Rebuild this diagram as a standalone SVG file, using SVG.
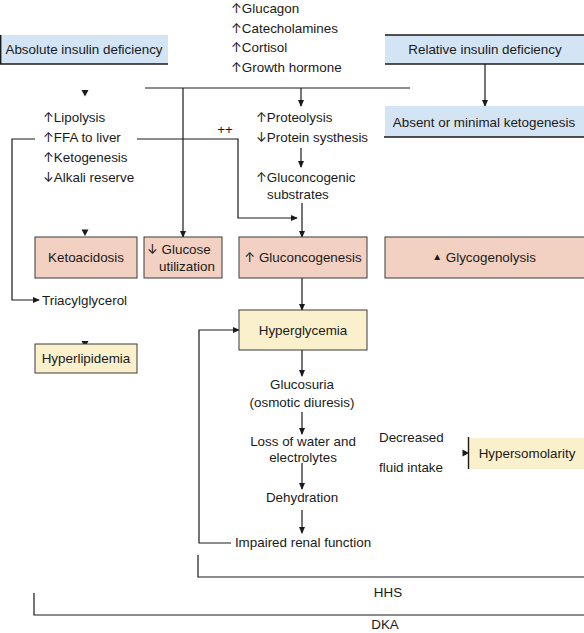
<svg xmlns="http://www.w3.org/2000/svg" width="584" height="633" viewBox="0 0 584 633">
<defs>
<marker id="ah" viewBox="0 0 8 8" refX="7" refY="4" markerWidth="7" markerHeight="7" markerUnits="userSpaceOnUse" orient="auto">
<path d="M0,0.5 L8,4 L0,7.5 z" fill="#1a1a1a"/>
</marker>
<style>
text{font-family:"Liberation Sans",Arial,sans-serif;font-size:13.4px;fill:#1a1a1a}
.c{text-anchor:middle}
.u{font-family:Inter,"DejaVu Sans",sans-serif;font-size:13px}
.ln{fill:none;stroke:#1a1a1a;stroke-width:1.2}
.ar{fill:none;stroke:#1a1a1a;stroke-width:1.2;marker-end:url(#ah)}
.blue{fill:#d3e4f4}
.pink{fill:#f2d0c2;stroke:#3a3a3a;stroke-width:1}
.yel{fill:#fbf0cc;stroke:#3a3a3a;stroke-width:1}
.edge{stroke:#1a1a1a;stroke-width:1.4}
.head{fill:#1a1a1a}
</style>
</defs>
<rect width="584" height="633" fill="#ffffff"/>

<g id="connectors">
<polyline class="ln" points="145,88 410,88"/>
<line class="ar" x1="183" y1="88" x2="183" y2="237"/>
<line class="ar" x1="301" y1="88" x2="301" y2="106"/>
<line class="ar" x1="485" y1="64" x2="485" y2="106"/>
<polyline class="ar" points="35,139 12,139 12,300 39,300"/>
<polyline class="ar" points="137,139 238,139 238,218 297,218"/>
<line class="ar" x1="301" y1="148" x2="301" y2="167"/>
<line class="ar" x1="302" y1="203" x2="302" y2="237"/>
<line class="ar" x1="302" y1="278" x2="302" y2="310"/>
<line class="ar" x1="302" y1="350" x2="302" y2="376"/>
<line class="ar" x1="302" y1="412" x2="302" y2="434"/>
<line class="ar" x1="302" y1="463" x2="302" y2="489"/>
<line class="ar" x1="302" y1="510" x2="302" y2="533"/>
<polyline class="ar" points="231,543 199,543 199,330 239,330"/>
<path class="head" d="M81.5,90 L88.5,90 L85,96.5 z"/>
<path class="head" d="M81.5,229.5 L88.5,229.5 L85,236 z"/>
<path class="head" d="M81.5,341 L88.5,341 L85,347.5 z"/>
<path class="head" d="M462.5,449.5 L469,453 L462.5,456.5 z"/>
<polyline class="ln" points="198,555 198,577 584,577"/>
<polyline class="ln" points="34,593 34,615 584,615"/>
</g>

<g id="hormones">
<text x="231" y="13"><tspan class="u">↑</tspan>Glucagon</text>
<text x="231" y="33"><tspan class="u">↑</tspan>Catecholamines</text>
<text x="231" y="52"><tspan class="u">↑</tspan>Cortisol</text>
<text x="231" y="72"><tspan class="u">↑</tspan>Growth hormone</text>
</g>

<g id="absolute">
<rect class="blue" x="0" y="35" width="168" height="29"/>
<line class="edge" x1="0.7" y1="35" x2="0.7" y2="64"/>
<line class="edge" x1="0" y1="64" x2="168" y2="64"/>
<text class="c" x="84" y="54">Absolute insulin deficiency</text>
</g>

<g id="relative">
<rect class="blue" x="385" y="35" width="199" height="29"/>
<line class="edge" x1="385" y1="35" x2="584" y2="35"/>
<line class="edge" x1="385" y1="64" x2="584" y2="64"/>
<text class="c" x="485" y="54">Relative insulin deficiency</text>
</g>

<g id="absent">
<rect class="blue" x="385" y="106" width="199" height="31"/>
<line class="edge" x1="384" y1="137" x2="584" y2="137"/>
<text class="c" x="484" y="127">Absent or minimal ketogenesis</text>
</g>

<g id="lipolysis">
<text x="43" y="122"><tspan class="u">↑</tspan>Lipolysis</text>
<text x="43" y="142"><tspan class="u">↑</tspan>FFA to liver</text>
<text x="43" y="162"><tspan class="u">↑</tspan>Ketogenesis</text>
<text x="43" y="182"><tspan class="u">↓</tspan>Alkali reserve</text>
</g>

<g id="plusplus">
<text class="c" x="225" y="134">++</text>
</g>

<g id="proteolysis">
<text x="256" y="122"><tspan class="u">↑</tspan>Proteolysis</text>
<text x="256" y="142"><tspan class="u">↓</tspan>Protein systhesis</text>
</g>

<g id="substrates">
<text x="256" y="182"><tspan class="u">↑</tspan>Gluconcogenic</text>
<text x="267" y="199">substrates</text>
</g>

<g id="ketoacidosis">
<rect class="pink" x="35" y="237" width="102" height="41"/>
<text class="c" x="86" y="262">Ketoacidosis</text>
</g>

<g id="glucose-utilization">
<rect class="pink" x="144" y="237" width="78" height="41"/>
<text x="147" y="254"><tspan class="u">↓</tspan> Glucose</text>
<text x="159" y="271">utilization</text>
</g>

<g id="gluconeogenesis">
<rect class="pink" x="239" y="237" width="128" height="41"/>
<text class="c" x="303" y="262"><tspan class="u">↑</tspan> Gluconcogenesis</text>
</g>

<g id="glycogenolysis">
<rect class="pink" x="385" y="237" width="200" height="41"/>
<text class="c" x="484" y="262"><tspan font-size="10" dy="-2">▲</tspan><tspan dy="2"> Glycogenolysis</tspan></text>
</g>

<g id="triacylglycerol">
<text x="42" y="305">Triacylglycerol</text>
</g>

<g id="hyperlipidemia">
<rect class="yel" x="35" y="344" width="102" height="29"/>
<text class="c" x="86" y="363">Hyperlipidemia</text>
</g>

<g id="hyperglycemia">
<rect class="yel" x="239" y="310" width="128" height="40"/>
<text class="c" x="303" y="335">Hyperglycemia</text>
</g>

<g id="glucosuria">
<text class="c" x="302" y="389">Glucosuria</text>
<text class="c" x="302" y="407">(osmotic diuresis)</text>
</g>

<g id="loss">
<text class="c" x="303" y="446">Loss of water and</text>
<text class="c" x="303" y="462">electrolytes</text>
</g>

<g id="decreased">
<text x="379" y="442">Decreased</text>
<text x="379" y="472">fluid intake</text>
</g>

<g id="hypersomolarity">
<rect x="468" y="438" width="117" height="31" fill="#fbf0cc"/>
<line class="edge" x1="468.5" y1="437" x2="468.5" y2="469"/>
<text class="c" x="527" y="458">Hypersomolarity</text>
</g>

<g id="dehydration">
<text class="c" x="302" y="502">Dehydration</text>
</g>

<g id="impaired">
<text class="c" x="303" y="547">Impaired renal function</text>
</g>

<g id="hhs">
<text class="c" x="388" y="597">HHS</text>
</g>

<g id="dka">
<text class="c" x="385" y="629">DKA</text>
</g>
</svg>
